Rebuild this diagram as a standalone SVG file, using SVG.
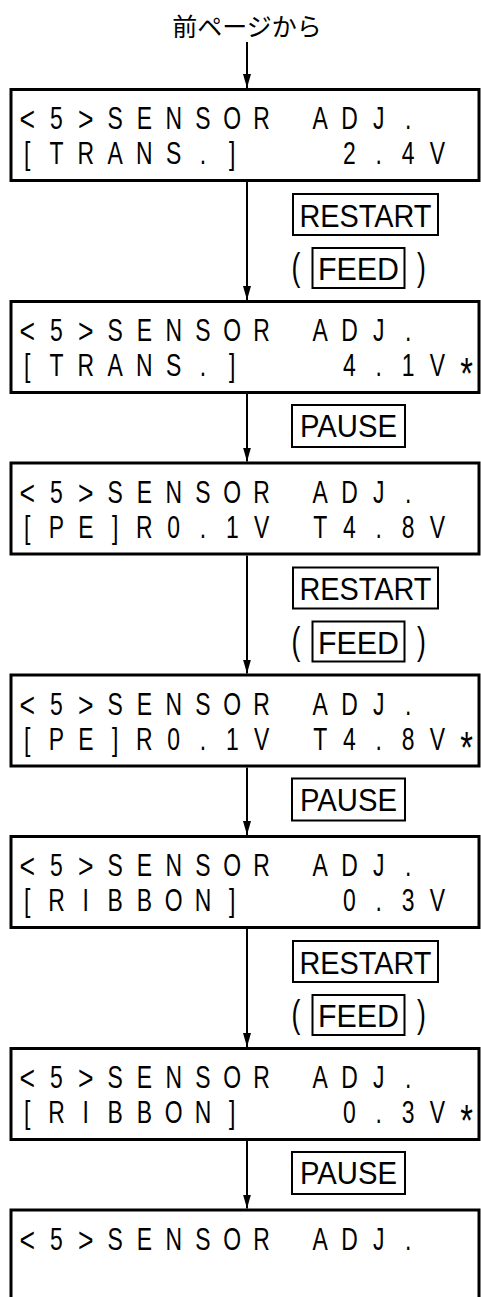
<svg xmlns="http://www.w3.org/2000/svg" width="481" height="1297" viewBox="0 0 481 1297">
<style>
.lcd{fill:#fff;stroke:#000;stroke-width:3}
.key{fill:none;stroke:#000;stroke-width:2}
.lt{font-family:"Liberation Sans",Arial,sans-serif;font-size:31px;fill:#000;text-anchor:middle}
.ab{font-family:"Liberation Sans",Arial,sans-serif;font-size:36px;fill:#000;text-anchor:middle}
.st{font-family:"Liberation Sans",Arial,sans-serif;font-size:44px;fill:#000;text-anchor:middle}
.kt{font-family:"Liberation Sans",Arial,sans-serif;font-size:31px;fill:#000;text-anchor:middle}
.pt{font-family:"Liberation Sans",Arial,sans-serif;font-size:38px;fill:#000;text-anchor:middle}
.jt{font-family:"Noto Sans CJK JP","Noto Sans CJK SC",sans-serif;font-size:25px;fill:#000;text-anchor:middle}
.conn{stroke:#000;stroke-width:2;fill:none}
</style>
<defs>
<marker id="ah" viewBox="0 0 14 8" refX="14" refY="4" markerWidth="14" markerHeight="8" markerUnits="userSpaceOnUse" orient="auto">
<path d="M0,0 L14,4 L0,8 Z" fill="#000"/>
</marker>
<g id="l1">
<text class="ab" x="36.76" y="42">&lt;</text>
<text class="ab" x="115.95" y="42">&gt;</text>
<text class="lt" y="40" x="76.35 155.54 195.14 234.73 274.32 313.92 353.51 432.70 472.30 511.89 551.49">5SENSORADJ.</text>
</g>
<text id="star" class="st" x="630.68" y="88">*</text>
</defs>
<rect width="481" height="1297" fill="#fff"/>

<g id="from-prev"><text class="jt" x="247" y="36">前ページから</text></g>

<g id="connectors">
<line class="conn" x1="247" y1="42" x2="247" y2="88" marker-end="url(#ah)"/>
<line class="conn" x1="247" y1="182" x2="247" y2="300" marker-end="url(#ah)"/>
<line class="conn" x1="247" y1="394" x2="247" y2="461.5" marker-end="url(#ah)"/>
<line class="conn" x1="247" y1="555.5" x2="247" y2="673.5" marker-end="url(#ah)"/>
<line class="conn" x1="247" y1="767.5" x2="247" y2="835" marker-end="url(#ah)"/>
<line class="conn" x1="247" y1="929" x2="247" y2="1047" marker-end="url(#ah)"/>
<line class="conn" x1="247" y1="1141" x2="247" y2="1208.5" marker-end="url(#ah)"/>
</g>

<g id="screen1">
<rect class="lcd" x="11" y="89.5" width="468" height="91"/>
<g transform="translate(0 89.5) scale(0.74 1)">
<use href="#l1"/>
<text class="lt" y="75" x="36.76 76.35 115.95 155.54 195.14 234.73 274.32 313.92 472.30 511.89 551.49 591.08">[TRANS.]2.4V</text>
</g>
</g>

<g id="key-restart-1">
<rect class="key" x="293" y="194" width="145" height="41"/>
<text class="kt" x="365.5" y="226.5" textLength="132" lengthAdjust="spacingAndGlyphs">RESTART</text>
<text class="pt" transform="translate(296 280) scale(0.7 1)">(</text>
<rect class="key" x="312.5" y="248" width="92" height="40"/>
<text class="kt" x="358.5" y="280" textLength="81" lengthAdjust="spacingAndGlyphs">FEED</text>
<text class="pt" transform="translate(421.5 280) scale(0.7 1)">)</text>
</g>

<g id="screen2">
<rect class="lcd" x="11" y="301.5" width="468" height="91"/>
<g transform="translate(0 301.5) scale(0.74 1)">
<use href="#l1"/>
<text class="lt" y="75" x="36.76 76.35 115.95 155.54 195.14 234.73 274.32 313.92 472.30 511.89 551.49 591.08">[TRANS.]4.1V</text>
<use href="#star"/>
</g>
</g>

<g id="key-pause-1">
<rect class="key" x="292" y="405" width="113" height="42"/>
<text class="kt" x="348.5" y="437" textLength="97" lengthAdjust="spacingAndGlyphs">PAUSE</text>
</g>

<g id="screen3">
<rect class="lcd" x="11" y="463" width="468" height="91"/>
<g transform="translate(0 463) scale(0.74 1)">
<use href="#l1"/>
<text class="lt" y="75" x="36.76 76.35 115.95 155.54 195.14 234.73 274.32 313.92 353.51 432.70 472.30 511.89 551.49 591.08">[PE]R0.1VT4.8V</text>
</g>
</g>

<g id="key-restart-2">
<rect class="key" x="293" y="567.5" width="145" height="41"/>
<text class="kt" x="365.5" y="600" textLength="132" lengthAdjust="spacingAndGlyphs">RESTART</text>
<text class="pt" transform="translate(296 653.5) scale(0.7 1)">(</text>
<rect class="key" x="312.5" y="621.5" width="92" height="40"/>
<text class="kt" x="358.5" y="653.5" textLength="81" lengthAdjust="spacingAndGlyphs">FEED</text>
<text class="pt" transform="translate(421.5 653.5) scale(0.7 1)">)</text>
</g>

<g id="screen4">
<rect class="lcd" x="11" y="675" width="468" height="91"/>
<g transform="translate(0 675) scale(0.74 1)">
<use href="#l1"/>
<text class="lt" y="75" x="36.76 76.35 115.95 155.54 195.14 234.73 274.32 313.92 353.51 432.70 472.30 511.89 551.49 591.08">[PE]R0.1VT4.8V</text>
<use href="#star"/>
</g>
</g>

<g id="key-pause-2">
<rect class="key" x="292" y="778.5" width="113" height="42"/>
<text class="kt" x="348.5" y="810.5" textLength="97" lengthAdjust="spacingAndGlyphs">PAUSE</text>
</g>

<g id="screen5">
<rect class="lcd" x="11" y="836.5" width="468" height="91"/>
<g transform="translate(0 836.5) scale(0.74 1)">
<use href="#l1"/>
<text class="lt" y="75" x="36.76 76.35 115.95 155.54 195.14 234.73 274.32 313.92 472.30 511.89 551.49 591.08">[RIBBON]0.3V</text>
</g>
</g>

<g id="key-restart-3">
<rect class="key" x="293" y="941" width="145" height="41"/>
<text class="kt" x="365.5" y="973.5" textLength="132" lengthAdjust="spacingAndGlyphs">RESTART</text>
<text class="pt" transform="translate(296 1027) scale(0.7 1)">(</text>
<rect class="key" x="312.5" y="995" width="92" height="40"/>
<text class="kt" x="358.5" y="1027" textLength="81" lengthAdjust="spacingAndGlyphs">FEED</text>
<text class="pt" transform="translate(421.5 1027) scale(0.7 1)">)</text>
</g>

<g id="screen6">
<rect class="lcd" x="11" y="1048.5" width="468" height="91"/>
<g transform="translate(0 1048.5) scale(0.74 1)">
<use href="#l1"/>
<text class="lt" y="75" x="36.76 76.35 115.95 155.54 195.14 234.73 274.32 313.92 472.30 511.89 551.49 591.08">[RIBBON]0.3V</text>
<use href="#star"/>
</g>
</g>

<g id="key-pause-3">
<rect class="key" x="292" y="1152" width="113" height="42"/>
<text class="kt" x="348.5" y="1184" textLength="97" lengthAdjust="spacingAndGlyphs">PAUSE</text>
</g>

<g id="screen7">
<rect class="lcd" x="11" y="1210" width="468" height="120"/>
<g transform="translate(0 1210) scale(0.74 1)">
<use href="#l1"/>
</g>
</g>
</svg>
